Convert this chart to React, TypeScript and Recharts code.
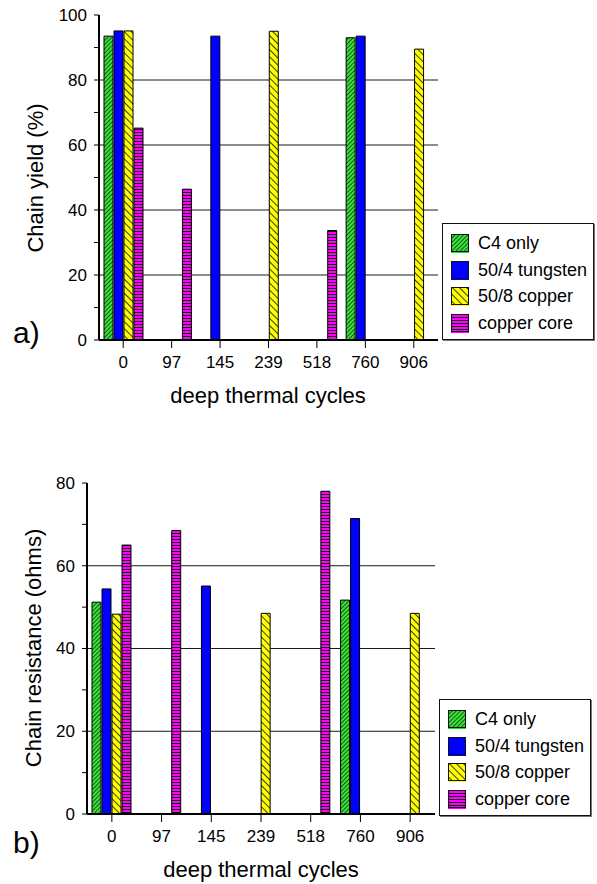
import React from 'react'
import { BarChart, Bar, XAxis, YAxis, CartesianGrid, Legend } from 'recharts'

const cycles = ['0', '97', '145', '239', '518', '760', '906']

// a) chain yield (%)
const yieldC4 = [93.5, null, null, null, null, 93.0, null]
const yieldTungsten = [95.1, null, 93.5, null, null, 93.5, null]
const yieldCopper = [95.1, null, null, 95.0, null, null, 89.5]
const yieldCore = [65.2, 46.4, null, null, 33.7, null, null]

// b) chain resistance (ohms)
const resC4 = [51.2, null, null, null, null, 51.7, null]
const resTungsten = [54.4, null, 55.1, null, null, 71.4, null]
const resCopper = [48.3, null, null, 48.5, null, null, 48.5]
const resCore = [65.0, 68.5, null, null, 78.0, null, null]

const seriesKeys = ['c4', 'tungsten', 'copper', 'core']
const seriesNames = ['C4 only', '50/4 tungsten', '50/8 copper', 'copper core']
const seriesFills = ['url(#hatchGreen)', '#0000ff', 'url(#hatchYellow)', 'url(#hatchPink)']
const seriesEdges = ['#22dd22', '#0000ff', '#ffff00', '#ff00ff']

const yieldTicks = [0, 10, 20, 30, 40, 50, 60, 70, 80, 90, 100]
const yieldGrid = [20, 40, 60, 80]
const resTicks = [0, 10, 20, 30, 40, 50, 60, 70, 80]
const resGrid = [20, 40, 60]

const FONT = '"Liberation Sans", Arial, sans-serif'

const yieldData = cycles.map((c, i) => ({
  cycles: c,
  c4: yieldC4[i],
  tungsten: yieldTungsten[i],
  copper: yieldCopper[i],
  core: yieldCore[i],
}))

const resData = cycles.map((c, i) => ({
  cycles: c,
  c4: resC4[i],
  tungsten: resTungsten[i],
  copper: resCopper[i],
  core: resCore[i],
}))

function Patterns() {
  return (
    <svg width={0} height={0} style={{ position: 'absolute' }}>
      <defs>
        <pattern id="hatchGreen" width="3" height="3" patternUnits="userSpaceOnUse" patternTransform="rotate(45)">
          <rect width="3" height="3" fill="#3ee23e" />
          <line x1="0.5" y1="0" x2="0.5" y2="3" stroke="#0b5e0b" strokeWidth="1" />
        </pattern>
        <pattern id="hatchYellow" width="5" height="5" patternUnits="userSpaceOnUse" patternTransform="rotate(-45)">
          <rect width="5" height="5" fill="#ffff00" />
          <line x1="0.5" y1="0" x2="0.5" y2="5" stroke="#222" strokeWidth="0.9" />
        </pattern>
        <pattern id="hatchPink" width="3" height="3" patternUnits="userSpaceOnUse">
          <rect width="3" height="3" fill="#ff00ff" />
          <line x1="0" y1="0.5" x2="3" y2="0.5" stroke="#111" strokeWidth="1" />
        </pattern>
      </defs>
    </svg>
  )
}

function YTick(props: any) {
  const { x, y, payload } = props
  if (payload.value % 20 !== 0) return <g />
  return (
    <text x={x} y={y} dy="0.35em" textAnchor="end" fontSize={17} fill="#000" fontFamily={FONT}>
      {payload.value}
    </text>
  )
}

function LegendBox() {
  return (
    <div
      style={{
        width: 152,
        height: 117,
        boxSizing: 'border-box',
        border: '1px solid #111',
        boxShadow: '1px 1px 0 #777',
        background: '#fff',
        padding: '6px 0 0 8px',
        fontFamily: FONT,
        fontSize: 18,
        color: '#000',
      }}
    >
      {seriesNames.map((name, i) => (
        <div key={name} style={{ display: 'flex', alignItems: 'center', height: 26.8 }}>
          <svg width={18} height={19} style={{ marginRight: 9, flex: 'none' }}>
            <rect x={0.5} y={0.5} width={17} height={17} fill={seriesFills[i]} stroke="#111" />
            <line x1={0} y1={18.5} x2={18} y2={18.5} stroke={seriesEdges[i]} strokeWidth={1} />
          </svg>
          <span style={{ whiteSpace: 'nowrap' }}>{name}</span>
        </div>
      ))}
    </div>
  )
}

interface PanelProps {
  data: any[]
  height: number
  margin: { top: number; right: number; left: number; bottom: number }
  ticks: number[]
  grid: number[]
  max: number
  yTitle: string
  yTitlePos: [number, number]
  xTitlePos: [number, number]
  legendPos: { left: number; top: number }
}

function Panel({ data, height, margin, ticks, grid, max, yTitle, yTitlePos, xTitlePos, legendPos }: PanelProps) {
  return (
    <BarChart width={597} height={height} data={data} margin={margin} barSize={9} barGap={1}>
      <CartesianGrid vertical={false} horizontalValues={grid} stroke="#1a1a1a" strokeWidth={1} />
      <XAxis
        dataKey="cycles"
        height={60}
        interval={0}
        tickSize={8}
        tickMargin={8}
        tick={{ fontSize: 17, fill: '#000', fontFamily: FONT }}
        tickLine={{ stroke: '#000' }}
        axisLine={{ stroke: '#000', strokeWidth: 2 }}
        label={{
          content: () => (
            <text x={xTitlePos[0]} y={xTitlePos[1]} textAnchor="middle" fontSize={22} fill="#000" fontFamily={FONT}>
              deep thermal cycles
            </text>
          ),
        }}
      />
      <XAxis
        xAxisId="top"
        orientation="top"
        dataKey="cycles"
        height={0}
        tick={false}
        tickLine={false}
        axisLine={{ stroke: '#000', strokeWidth: 1.5 }}
      />
      <YAxis
        width={60}
        domain={[0, max]}
        ticks={ticks}
        interval={0}
        tickSize={5}
        tickMargin={7}
        tick={<YTick />}
        tickLine={{ stroke: '#000' }}
        axisLine={{ stroke: '#000', strokeWidth: 2 }}
        label={{
          content: () => (
            <text
              x={yTitlePos[0]}
              y={yTitlePos[1]}
              transform={`rotate(-90, ${yTitlePos[0]}, ${yTitlePos[1]})`}
              textAnchor="middle"
              dy="0.35em"
              fontSize={22}
              fill="#000"
              fontFamily={FONT}
            >
              {yTitle}
            </text>
          ),
        }}
      />
      <YAxis
        yAxisId="right"
        orientation="right"
        width={0}
        domain={[0, max]}
        tick={false}
        tickLine={false}
        axisLine={{ stroke: '#666', strokeWidth: 2 }}
      />
      {seriesKeys.map((k, i) => (
        <Bar
          key={k}
          dataKey={k}
          name={seriesNames[i]}
          fill={seriesFills[i]}
          stroke="#000"
          strokeWidth={1}
          isAnimationActive={false}
        />
      ))}
      <Legend
        layout="vertical"
        align="center"
        verticalAlign="middle"
        content={() => <LegendBox />}
        wrapperStyle={{ left: legendPos.left, top: legendPos.top, width: 152, height: 117 }}
      />
    </BarChart>
  )
}

export default function App() {
  return (
    <div style={{ position: 'absolute', left: 0, top: 0, width: 597, height: 884, background: '#fff', fontFamily: FONT }}>
      <Patterns />
      <div style={{ position: 'absolute', left: 0, top: 0 }}>
        <Panel
          data={yieldData}
          height={420}
          margin={{ top: 15, right: 159, left: 39, bottom: 20 }}
          ticks={yieldTicks}
          grid={yieldGrid}
          max={100}
          yTitle="Chain yield (%)"
          yTitlePos={[35, 178]}
          xTitlePos={[268, 403]}
          legendPos={{ left: 442, top: 223 }}
        />
      </div>
      <div style={{ position: 'absolute', left: 0, top: 440 }}>
        <Panel
          data={resData}
          height={444}
          margin={{ top: 43, right: 162, left: 27, bottom: 10 }}
          ticks={resTicks}
          grid={resGrid}
          max={80}
          yTitle="Chain resistance (ohms)"
          yTitlePos={[33, 208]}
          xTitlePos={[261, 437]}
          legendPos={{ left: 439, top: 259 }}
        />
      </div>
      <svg width={597} height={884} style={{ position: 'absolute', left: 0, top: 0, pointerEvents: 'none' }}>
        <text x={13} y={343} fontSize={30} fill="#000" fontFamily={FONT}>a)</text>
        <text x={13} y={853} fontSize={30} fill="#000" fontFamily={FONT}>b)</text>
      </svg>
    </div>
  )
}
